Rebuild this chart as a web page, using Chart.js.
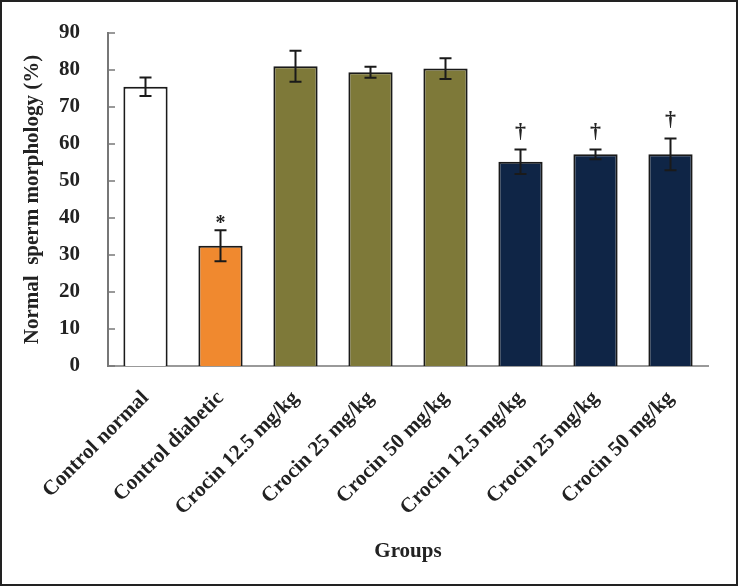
<!DOCTYPE html>
<html>
<head>
<meta charset="utf-8">
<script src="https://cdn.jsdelivr.net/npm/chart.js@4"></script>
<style>
  html, body { margin: 0; padding: 0; background: #fff; }
  canvas { display: block; }
</style>
</head>
<body>
<canvas id="myChart" width="738" height="586"></canvas>
<script>
// groups on the x axis
const groups = ["Control normal", "Control diabetic", "Crocin 12.5 mg/kg", "Crocin 25 mg/kg",
    "Crocin 50 mg/kg", "Crocin 12.5 mg/kg", "Crocin 25 mg/kg", "Crocin 50 mg/kg"];
// mean and error
const meanVals = [75.5, 32.5, 81.0, 79.4, 80.4, 55.2, 57.2, 57.2];
const errVals = [2.5, 4.2, 4.2, 1.5, 2.8, 3.3, 1.3, 4.3];
const marks = ["", "*", "", "", "", "†", "†", "†"];
const barColors = ["#ffffff", "#f0892f", "#7e7939", "#7e7939", "#7e7939", "#0f2546", "#0f2546", "#0f2546"];
const yMin = 0, yMax = 90, yStep = 10;

const serif = "'Liberation Serif', 'Times New Roman', serif";
const ink = "#222";

// frame + white background
const framePlugin = {
    id: "frame",
    beforeDraw(chart) {
        const ctx = chart.ctx;
        ctx.save();
        ctx.fillStyle = "#fff";
        ctx.fillRect(0, 0, chart.width, chart.height);
        ctx.restore();
    },
    afterDraw(chart) {
        const ctx = chart.ctx;
        ctx.save();
        ctx.strokeStyle = "#222";
        ctx.lineWidth = 2;
        ctx.strokeRect(1, 1, chart.width - 2, chart.height - 2);
        ctx.restore();
    }
};

// small tick marks pointing into the plot
const innerTicks = {
    id: "innerTicks",
    afterDraw(chart) {
        const ctx = chart.ctx;
        const y = chart.scales.y;
        const left = chart.chartArea.left;
        ctx.save();
        ctx.strokeStyle = "#777";
        ctx.lineWidth = 1.5;
        y.ticks.forEach(t => {
            const py = y.getPixelForValue(t.value);
            ctx.beginPath();
            ctx.moveTo(left, py);
            ctx.lineTo(left + 7, py);
            ctx.stroke();
        });
        ctx.restore();
    }
};

// error bars + significance marks
const errorBars = {
    id: "errorBars",
    afterDatasetsDraw(chart) {
        const ctx = chart.ctx;
        const y = chart.scales.y;
        const meta = chart.getDatasetMeta(0);
        ctx.save();
        ctx.strokeStyle = "#1a1a1a";
        ctx.lineWidth = 2;
        meta.data.forEach((bar, i) => {
            const x = bar.x;
            const top = y.getPixelForValue(meanVals[i] + errVals[i]);
            const bot = y.getPixelForValue(meanVals[i] - errVals[i]);
            const cap = 6;
            ctx.beginPath();
            ctx.moveTo(x, top); ctx.lineTo(x, bot);
            ctx.moveTo(x - cap, top); ctx.lineTo(x + cap, top);
            ctx.moveTo(x - cap, bot); ctx.lineTo(x + cap, bot);
            ctx.stroke();
            if (marks[i]) {
                ctx.fillStyle = ink;
                ctx.textAlign = "center";
                ctx.textBaseline = "alphabetic";
                if (marks[i] === "*") {
                    ctx.font = "bold 20px " + serif;
                    ctx.fillText(marks[i], x, top - 1);
                } else {
                    ctx.font = "bold 22px " + serif;
                    ctx.fillText(marks[i], x, top - 12);
                }
            }
        });
        ctx.restore();
    }
};

const data = {
    labels: groups,
    datasets: [{
        data: meanVals,
        backgroundColor: barColors,
        borderColor: "#1a1a1a",
        borderWidth: 2,
        borderSkipped: "bottom",
        categoryPercentage: 1.0,
        barPercentage: 0.59
    }]
};

const config = {
    type: "bar",
    data,
    options: {
        responsive: false,
        animation: false,
        layout: { padding: { top: 33, right: 30, left: 0, bottom: 0 } },
        plugins: { legend: { display: false }, tooltip: { enabled: false } },
        scales: {
            x: {
                grid: { display: false },
                border: { display: true, color: "#999", width: 2 },
                ticks: {
                    color: ink,
                    font: { family: serif, size: 21, weight: "bold" },
                    minRotation: 45, maxRotation: 45,
                    padding: 12,
                    autoSkip: false
                },
                title: {
                    display: true,
                    text: "Groups",
                    color: ink,
                    font: { family: serif, size: 21, weight: "bold" },
                    padding: { top: 0, bottom: 22 }
                },
                afterFit: (scale) => { scale.height = 220; }
            },
            y: {
                min: yMin, max: yMax,
                grid: { display: false },
                border: { display: true, color: "#777", width: 2 },
                ticks: {
                    stepSize: yStep,
                    color: ink,
                    padding: 20,
                    font: { family: serif, size: 21, weight: "bold" }
                },
                title: {
                    display: true,
                    text: "Normal  sperm morphology (%)",
                    color: ink,
                    font: { family: serif, size: 21, weight: "bold" },
                    padding: { top: 20, bottom: 0 }
                },
                afterFit: (scale) => { scale.width = 108; }
            }
        }
    },
    plugins: [framePlugin, innerTicks, errorBars]
};

new Chart(document.getElementById("myChart"), config);
</script>
</body>
</html>
